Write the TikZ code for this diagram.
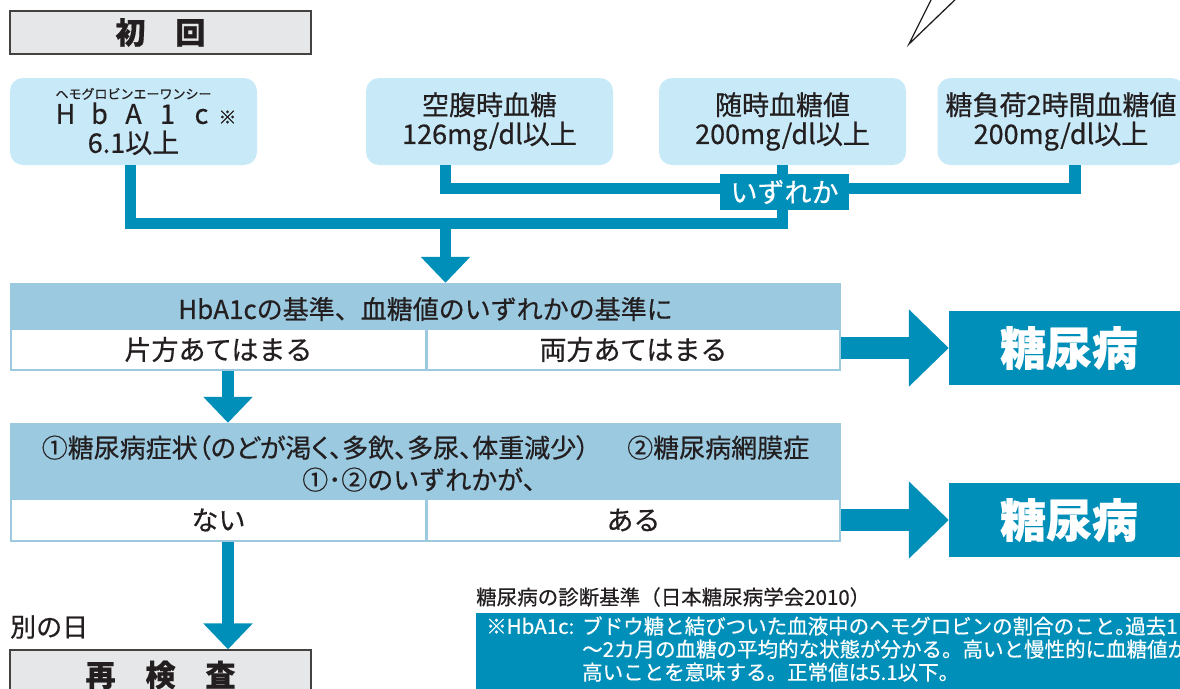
\documentclass[tikz,border=0pt]{standalone}
\usepackage{fontspec}
\setmainfont{Noto Sans CJK JP}[FakeBold=0.5]
\usetikzlibrary{arrows.meta}
\definecolor{diaBlue}{RGB}{0,143,185}
\definecolor{boxblue}{RGB}{200,233,247}
\definecolor{bandblue}{RGB}{155,201,224}
\definecolor{headgray}{RGB}{230,231,232}
\definecolor{ink}{RGB}{35,31,32}
\begin{document}
\begin{tikzpicture}[x=1pt, y=-1pt,
        graybox/.style={draw=ink!85, line width=1.3pt, fill=headgray, minimum width=301pt, inner sep=0pt, text=ink, font=\fontsize{30}{30}\selectfont\bfseries},
        critbox/.style={fill=boxblue, rounded corners=13pt, minimum width=247pt, minimum height=87pt, inner sep=0pt, align=center, text=ink, font=\fontsize{27}{29}\selectfont},
        band/.style={fill=bandblue, minimum width=831pt, inner sep=0pt},
        cell/.style={fill=white, minimum height=39pt, inner sep=0pt, text=ink, font=\fontsize{27}{27}\selectfont},
        bandtext/.style={inner sep=0pt, text=ink, align=center, font=\fontsize{26}{32}\selectfont},
        dmbox/.style={fill=diaBlue, minimum width=240pt, minimum height=74pt, inner sep=0pt, text=white, font=\fontsize{46}{46}\selectfont\bfseries},
        conn/.style={draw=diaBlue, line width=11.5pt},
        downarrow/.style={conn, -{Triangle[width=48pt,length=26pt]}},
        rightarrow/.style={draw=diaBlue, line width=22.5pt, -{Triangle[width=75pt,length=40pt]}}]
        \clip (0,0) rectangle (1180,688);
        \draw[ink, line width=1.3pt] (933.5,-5) -- (909,44) -- (960,-5);
        \node[graybox, minimum height=43pt] (shokai) at (160.5,32.5) {初　回};
        \node[critbox] (hba) at (133.5,121.5) {{\fontsize{13}{13}\selectfont ヘモグロビンエーワンシー}\\[-4pt]
            \makebox[34pt]{H}\makebox[34pt]{b}\makebox[34pt]{A}\makebox[34pt]{1}\makebox[34pt]{c}\rlap{\fontsize{18}{18}\selectfont ※}\\
            6.1以上};
        \node[critbox] (kuufuku) at (489.5,121.5) {空腹時血糖\\126mg/dl以上};
        \node[critbox] (zuiji) at (782.5,121.5) {随時血糖値\\200mg/dl以上};
        \node[critbox] (fuka) at (1061,121.5) {糖負荷2時間血糖値\\200mg/dl以上};
        \node[band, minimum height=88pt] (main1) at (425.5,327) {};
        \node[bandtext] (crit1) at (425.5,309) {HbA1cの基準、血糖値のいずれかの基準に};
        \node[cell, minimum width=413pt] (one) at (218.5,349.5) {片方あてはまる};
        \node[cell, minimum width=411pt] (both) at (633.5,349.5) {両方あてはまる};
        \node[band, minimum height=119pt] (main2) at (425.5,482.5) {};
        \node[bandtext] (crit2) at (425.5,463.5) {{\addfontfeatures{RawFeature=+palt}①糖尿病症状（のどが渇く、多飲、多尿、体重減少）\hspace{38pt}②糖尿病網膜症}\\①･②のいずれかが、};
        \node[cell, minimum width=413pt, minimum height=40pt] (nai) at (218.5,520) {ない};
        \node[cell, minimum width=411pt, minimum height=40pt] (aru) at (633.5,520) {ある};
        \node[dmbox] (dm1) at (1069,348) {糖尿病};
        \node[dmbox] (dm2) at (1069,520) {糖尿病};
        \node[anchor=west, inner sep=0pt, text=ink, font=\fontsize{26}{26}\selectfont] (betsu) at (10,627) {別の日};
        \node[graybox, minimum height=50pt] (saiken) at (160.5,675) {再　検　査};
        \coordinate (upper) at (445.5,188.5);
        \coordinate (lower) at (445.5,223.5);
        \draw[conn] (kuufuku.south -| upper) -- (upper) -| ([xshift=14pt]fuka.south);
        \draw[conn] ([xshift=-3pt]hba.south) |- (lower) -| (zuiji.south);
        \node[fill=diaBlue, text=white, minimum width=129pt, minimum height=36pt, inner sep=0pt, font=\fontsize{27}{27}\selectfont] (izure) at (784.5,192) {いずれか};
        \draw[downarrow] (lower) -- (lower |- main1.north);
        \draw[downarrow] (main1.south -| 228,0) -- (main2.north -| 228,0);
        \draw[downarrow] (main2.south -| 228,0) -- (saiken.north -| 228,0);
        \draw[rightarrow] (main1.east |- dm1.west) -- (dm1.west);
        \draw[rightarrow] (main2.east |- dm2.west) -- (dm2.west);
        \node[anchor=west, inner sep=0pt, text=ink, font=\fontsize{20.5}{20.5}\selectfont] (title) at (476,597) {糖尿病の診断基準（日本糖尿病学会2010）};
        \node[anchor=north west, fill=diaBlue, minimum width=720pt, minimum height=90pt, inner sep=0pt] (note) at (476,613) {};
        \node[anchor=west, inner sep=0pt, text=white, align=left, font=\fontsize{20.5}{23}\selectfont] (notetext) at (486,649) {\makebox[96pt][l]{※HbA1c:}ブドウ糖と結びついた血液中のヘモグロビンの割合のこと\makebox[10pt][l]{。}過去1\\
            \hspace*{96pt}～2カ月の血糖の平均的な状態が分かる。高いと慢性的に血糖値が\\
            \hspace*{96pt}高いことを意味する。正常値は5.1以下。};
    \end{tikzpicture}
\end{document}
